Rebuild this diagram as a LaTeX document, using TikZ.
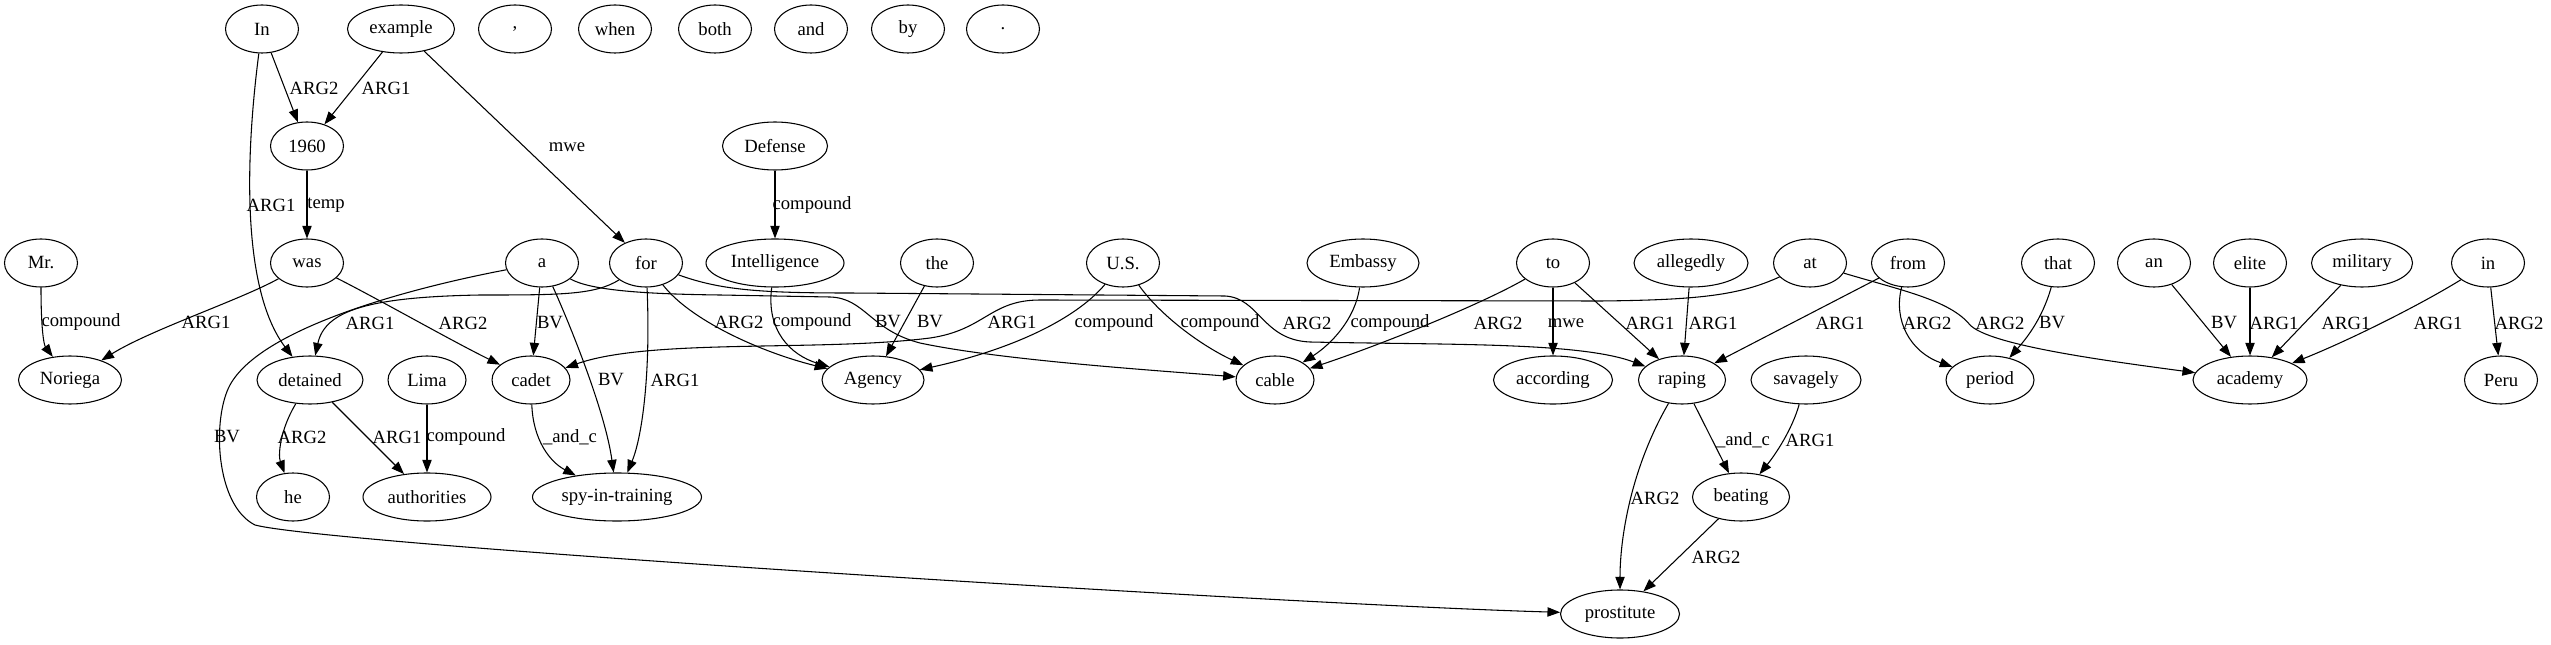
\documentclass[tikz,border=0pt]{standalone}
\usepackage{fontspec}
\setmainfont{Liberation Serif}
\usetikzlibrary{shapes.geometric,arrows.meta}
\begin{document}
\begin{tikzpicture}[x=0.75pt,y=-0.75pt,
  nd/.style={draw,ellipse,line width=0.8pt,inner sep=0pt,minimum height=36pt,minimum width=#1*0.75pt,font=\fontsize{14}{16}\selectfont},
  nd/.default=73,
  lb/.style={inner sep=0pt,font=\fontsize{14}{16}\selectfont},
  ed/.style={line width=0.8pt,-{Triangle[length=9.5pt,width=7pt]}}]
\useasboundingbox (0,0) rectangle (2551,645);
% row 1
\node[nd] (nIn) at (262,29) {In};
\node[nd=107] (nexample) at (401,29) {example};
\node[nd] (ncomma) at (515,29) {,};
\node[nd] (nwhen) at (615,29) {when};
\node[nd] (nboth) at (715,29) {both};
\node[nd] (nand) at (811,29) {and};
\node[nd] (nby) at (908,29) {by};
\node[nd] (ndot) at (1003,29) {.};
% row 2
\node[nd] (n1960) at (307,146) {1960};
\node[nd=105] (nDefense) at (775,146) {Defense};
% row 3
\node[nd] (nMr) at (41,263) {Mr.};
\node[nd] (nwas) at (307,263) {was};
\node[nd] (na) at (542,263) {a};
\node[nd] (nfor) at (646,263) {for};
\node[nd=138] (nIntel) at (775,263) {Intelligence};
\node[nd] (nthe) at (937,263) {the};
\node[nd] (nUS) at (1123,263) {U.S.};
\node[nd=112] (nEmbassy) at (1363,263) {Embassy};
\node[nd] (nto) at (1553,263) {to};
\node[nd=114] (nallegedly) at (1691,263) {allegedly};
\node[nd] (nat) at (1810,263) {at};
\node[nd] (nfrom) at (1908,263) {from};
\node[nd] (nthat) at (2058,263) {that};
\node[nd] (nan) at (2154,263) {an};
\node[nd] (nelite) at (2250,263) {elite};
\node[nd=101] (nmilitary) at (2362,263) {military};
\node[nd] (nin) at (2488,263) {in};
% row 4
\node[nd=103] (nNoriega) at (70,380) {Noriega};
\node[nd=106] (ndetained) at (310,380) {detained};
\node[nd=78] (nLima) at (427,380) {Lima};
\node[nd=78] (ncadet) at (531,380) {cadet};
\node[nd=102] (nAgency) at (873,380) {Agency};
\node[nd=78] (ncable) at (1275,380) {cable};
\node[nd=119] (naccording) at (1553,380) {according};
\node[nd=87] (nraping) at (1682,380) {raping};
\node[nd=110] (nsavagely) at (1806,380) {savagely};
\node[nd=88] (nperiod) at (1990,380) {period};
\node[nd=114] (nacademy) at (2250,380) {academy};
\node[nd] (nPeru) at (2501,380) {Peru};
% row 5
\node[nd] (nhe) at (293,497) {he};
\node[nd=128] (nauthorities) at (427,497) {authorities};
\node[nd=169] (nspy) at (617,497) {spy-in-training};
\node[nd=97] (nbeating) at (1741,497) {beating};
% row 6
\node[nd=119] (nprostitute) at (1620,614) {prostitute};

% edges
\draw[ed] (nIn) -- (n1960);
\draw[ed] (nexample) -- (n1960);
\draw[ed] (nexample) -- (nfor);
\draw[ed] (nIn) .. controls (245,160) and (242,290) .. (ndetained);
\draw[ed] (n1960) -- (nwas);
\draw[ed] (nMr) .. controls (41,330) and (44,345) .. (nNoriega);
\draw[ed] (nwas) .. controls (240,300) and (150,330) .. (nNoriega);
\draw[ed] (nwas) .. controls (380,300) and (450,340) .. (ncadet);
\draw[ed] (nfor) .. controls (595,295) and (560,295) .. (480,295) .. controls (370,297) and (325,310) .. (ndetained);
\draw[ed] (na) -- (ncadet);
\draw[ed] (na) .. controls (568,320) and (605,410) .. (nspy);
\draw[ed] (na) .. controls (590,290) and (640,294) .. (720,295) -- (830,297) .. controls (865,298) and (870,330) .. (920,343) .. controls (1000,360) and (1150,370) .. (ncable);
\draw[ed] (na) .. controls (400,290) and (260,330) .. (230,385) .. controls (212,418) and (215,505) .. (255,525) .. controls (330,545) and (1300,605) .. (nprostitute);
\draw[ed] (nfor) .. controls (651,380) and (641,440) .. (nspy);
\draw[ed] (nfor) .. controls (690,320) and (760,352) .. (nAgency);
\draw[ed] (nfor) .. controls (720,290) and (760,293) .. (850,293) -- (1225,296) .. controls (1260,298) and (1262,340) .. (1310,342) .. controls (1450,345) and (1580,342) .. (nraping);
\draw[ed] (nIntel) .. controls (766,330) and (790,355) .. (nAgency);
\draw[ed] (nDefense) -- (nIntel);
\draw[ed] (nthe) -- (nAgency);
\draw[ed] (nUS) .. controls (1075,320) and (1010,350) .. (nAgency);
\draw[ed] (nUS) .. controls (1160,315) and (1200,345) .. (ncable);
\draw[ed] (nEmbassy) .. controls (1355,320) and (1330,345) .. (ncable);
\draw[ed] (nto) .. controls (1480,305) and (1380,345) .. (ncable);
\draw[ed] (nto) -- (naccording);
\draw[ed] (nto) -- (nraping);
\draw[ed] (nallegedly) -- (nraping);
\draw[ed] (nfrom) -- (nraping);
\draw[ed] (nat) .. controls (1740,295) and (1700,300) .. (1600,301) -- (1040,300) .. controls (990,300) and (985,330) .. (930,338) .. controls (820,352) and (650,338) .. (ncadet);
\draw[ed] (nfrom) .. controls (1893,320) and (1910,352) .. (nperiod);
\draw[ed] (nat) .. controls (1900,290) and (1950,300) .. (1970,325) .. controls (1990,345) and (2100,360) .. (nacademy);
\draw[ed] (nthat) .. controls (2042,320) and (2025,340) .. (nperiod);
\draw[ed] (nan) -- (nacademy);
\draw[ed] (nelite) -- (nacademy);
\draw[ed] (nmilitary) -- (nacademy);
\draw[ed] (nin) .. controls (2420,305) and (2350,340) .. (nacademy);
\draw[ed] (nin) -- (nPeru);
\draw[ed] (ndetained) .. controls (280,430) and (278,455) .. (nhe);
\draw[ed] (ndetained) -- (nauthorities);
\draw[ed] (nLima) -- (nauthorities);
\draw[ed] (ncadet) .. controls (533,440) and (550,462) .. (nspy);
\draw[ed] (nraping) -- (nbeating);
\draw[ed] (nsavagely) .. controls (1792,430) and (1775,455) .. (nbeating);
\draw[ed] (nraping) .. controls (1630,470) and (1620,540) .. (nprostitute);
\draw[ed] (nbeating) -- (nprostitute);

% edge labels
\node[lb] (l1) at (314,88) {ARG2};
\node[lb] (l2) at (386,88) {ARG1};
\node[lb] (l3) at (567,147) {mwe};
\node[lb] (l4) at (271,205) {ARG1};
\node[lb] (l5) at (326,205) {temp};
\node[lb] (l6) at (812,205) {compound};
\node[lb] (l7) at (81,322) {compound};
\node[lb] (l8) at (206,322) {ARG1};
\node[lb] (l9) at (370,323) {ARG1};
\node[lb] (l10) at (463,323) {ARG2};
\node[lb] (l11) at (550,323) {BV};
\node[lb] (l12) at (611,380) {BV};
\node[lb] (l13) at (675,380) {ARG1};
\node[lb] (l14) at (739,322) {ARG2};
\node[lb] (l15) at (812,322) {compound};
\node[lb] (l16) at (888,322) {BV};
\node[lb] (l17) at (930,322) {BV};
\node[lb] (l18) at (1012,322) {ARG1};
\node[lb] (l19) at (1114,323) {compound};
\node[lb] (l20) at (1220,323) {compound};
\node[lb] (l21) at (1307,323) {ARG2};
\node[lb] (l22) at (1390,323) {compound};
\node[lb] (l23) at (1498,323) {ARG2};
\node[lb] (l24) at (1566,323) {mwe};
\node[lb] (l25) at (1650,323) {ARG1};
\node[lb] (l26) at (1713,323) {ARG1};
\node[lb] (l27) at (1840,323) {ARG1};
\node[lb] (l28) at (1927,323) {ARG2};
\node[lb] (l29) at (2000,323) {ARG2};
\node[lb] (l30) at (2052,323) {BV};
\node[lb] (l31) at (2224,323) {BV};
\node[lb] (l32) at (2274,323) {ARG1};
\node[lb] (l33) at (2346,323) {ARG1};
\node[lb] (l34) at (2438,323) {ARG1};
\node[lb] (l35) at (2519,323) {ARG2};
\node[lb] (l36) at (227,437) {BV};
\node[lb] (l37) at (302,437) {ARG2};
\node[lb] (l38) at (397,437) {ARG1};
\node[lb] (l39) at (466,437) {compound};
\node[lb] (l40) at (570,437) {\_and\_c};
\node[lb] (l41) at (1743,440) {\_and\_c};
\node[lb] (l42) at (1810,440) {ARG1};
\node[lb] (l43) at (1655,498) {ARG2};
\node[lb] (l44) at (1716,557) {ARG2};
\end{tikzpicture}
\end{document}
